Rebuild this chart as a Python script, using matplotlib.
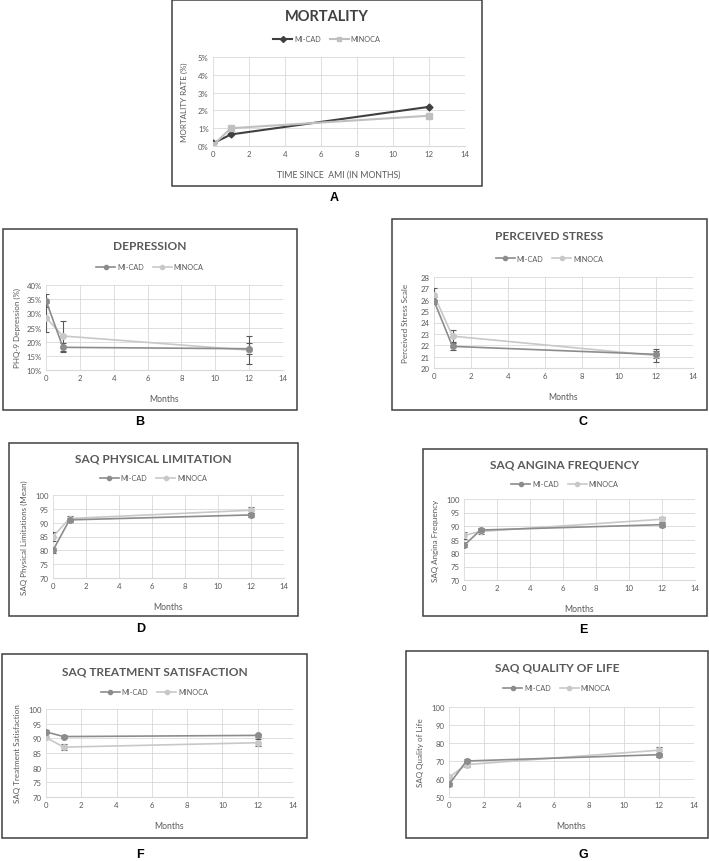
import matplotlib.pyplot as plt
from matplotlib.patches import Rectangle
from matplotlib.lines import Line2D

plt.rcParams['font.family'] = ['Lato', 'DejaVu Sans']

W, H = 709, 862

# ---- data ----
months = [0, 1, 12]
series_names = ['MI-CAD', 'MINOCA']

mort_micad = [0.15, 0.65, 2.2]
mort_minoca = [0.05, 1.0, 1.7]

dep_micad = [34.5, 18.0, 17.5]
dep_micad_err = [2.2, 1.5, 2.0]
dep_minoca = [28.5, 22.0, 17.0]
dep_minoca_err = [5.0, 5.4, 5.0]

pss_micad = [25.9, 21.9, 21.2]
pss_micad_err = [0.3, 0.3, 0.3]
pss_minoca = [26.4, 22.8, 21.1]
pss_minoca_err = [0.6, 0.5, 0.55]

spl_micad = [80.0, 91.0, 92.8]
spl_micad_err = [0.8, 0.8, 0.8]
spl_minoca = [85.0, 91.5, 94.5]
spl_minoca_err = [1.5, 1.0, 1.0]

saf_micad = [82.8, 88.5, 90.5]
saf_micad_err = [0.6, 0.6, 0.7]
saf_minoca = [86.5, 88.0, 92.5]
saf_minoca_err = [1.3, 1.0, 1.0]

sts_micad = [92.2, 90.6, 91.0]
sts_micad_err = [0.5, 0.5, 0.5]
sts_minoca = [90.3, 87.0, 88.5]
sts_minoca_err = [0.6, 1.0, 1.2]

sql_micad = [57.0, 70.0, 73.5]
sql_micad_err = [1.0, 1.0, 1.0]
sql_minoca = [61.0, 68.0, 76.0]
sql_minoca_err = [1.5, 1.5, 2.0]


def fx(px):
    return px / W


def fy(py):
    return 1 - py / H


def panel_box(fig, box, title, title_y, legend_y, letter, letter_pos,
              handles, title_size=8.6, title_color='#595959'):
    x0, y0, x1, y1 = box
    fig.add_artist(Rectangle((fx(x0), fy(y1)), fx(x1) - fx(x0), fy(y0) - fy(y1),
                             transform=fig.transFigure, fill=False,
                             edgecolor='#404040', linewidth=1.1))
    cx = (x0 + x1) / 2
    fig.text(fx(cx), fy(title_y), title, ha='center', va='center',
             fontsize=title_size, fontweight='bold', color=title_color)
    fig.legend(handles=handles, loc='center', ncol=2, frameon=False,
               bbox_to_anchor=(fx(cx), fy(legend_y)), fontsize=5.2,
               handlelength=2.6, columnspacing=1.2, handletextpad=0.3,
               labelcolor='#595959')
    fig.text(fx(letter_pos[0]), fy(letter_pos[1]), letter, ha='center', va='center',
             fontsize=9, fontweight='bold', family='Liberation Sans')


def make_axes(fig, plot, ylim, yticks, ylabel, xlabel='Months', pct=False):
    x0, y0, x1, y1 = plot
    ax = fig.add_axes([fx(x0), fy(y1), fx(x1) - fx(x0), fy(y0) - fy(y1)])
    ax.set_xlim(0, 14)
    ax.set_ylim(*ylim)
    ax.set_xticks(range(0, 15, 2))
    ax.set_yticks(yticks)
    if pct:
        ax.set_yticklabels([f'{t:g}%' for t in yticks])
    ax.grid(True, color='#d9d9d9', linewidth=0.6)
    ax.set_axisbelow(True)
    for s in ax.spines.values():
        s.set_visible(False)
    ax.spines['bottom'].set_visible(True)
    ax.spines['bottom'].set_color('#d9d9d9')
    ax.tick_params(length=0, labelsize=5.6, colors='#595959', pad=3)
    ax.set_ylabel(ylabel, fontsize=5.8, color='#595959')
    ax.set_xlabel(xlabel, fontsize=6.2, color='#595959')
    w = x1 - x0
    h = y1 - y0
    ax.yaxis.set_label_coords(-25 / w, 0.5)
    ax.xaxis.set_label_coords(0.5, -24 / h)
    return ax


fig = plt.figure(figsize=(W / 100, H / 100), dpi=100)

# ---- panel A ----
hA = [Line2D([], [], color='#404040', marker='D', markersize=3, lw=1.5, label=series_names[0]),
      Line2D([], [], color='#bfbfbf', marker='s', markersize=3.5, lw=1.5, label=series_names[1])]
panel_box(fig, (172, 1, 482, 187), 'MORTALITY', 17, 40, 'A', (334, 198),
          hA, title_size=10.5, title_color='#404040')
axA = make_axes(fig, (213, 58, 465, 147), (0, 5), [0, 1, 2, 3, 4, 5],
                'MORTALITY RATE (%)', 'TIME SINCE  AMI (IN MONTHS)', pct=True)
axA.plot(months, mort_micad, color='#404040', marker='D', markersize=3.5, lw=1.5)
axA.plot(months, mort_minoca, color='#bfbfbf', marker='s', markersize=4.5, lw=1.5)

# ---- panels B-G ----
c_micad = '#8c8c8c'
c_minoca = '#c8c8c8'
c_err = '#595959'


def gray_handles():
    return [Line2D([], [], color=c_micad, marker='o', markersize=3, lw=1.2, label=series_names[0]),
            Line2D([], [], color=c_minoca, marker='o', markersize=3, lw=1.2, label=series_names[1])]


panels = [
    dict(box=(3, 230, 297, 411), plot=(46, 286, 283, 371), title='DEPRESSION',
         ty=246, ly=268, letter='B', lp=(140, 422), ylim=(10, 40),
         yticks=[10, 15, 20, 25, 30, 35, 40], ylabel='PHQ-9 Depression (%)', pct=True,
         a=dep_micad, ae=dep_micad_err, b=dep_minoca, be=dep_minoca_err),
    dict(box=(392, 220, 707, 411), plot=(434, 278, 693, 369), title='PERCEIVED STRESS',
         ty=237, ly=259, letter='C', lp=(583, 422), ylim=(20, 28),
         yticks=list(range(20, 29)), ylabel='Perceived Stress Scale', pct=False,
         a=pss_micad, ae=pss_micad_err, b=pss_minoca, be=pss_minoca_err),
    dict(box=(9, 444, 298, 617), plot=(53, 496, 284, 579), title='SAQ PHYSICAL LIMITATION',
         ty=459, ly=479, letter='D', lp=(141, 629), ylim=(70, 100),
         yticks=list(range(70, 101, 5)), ylabel='SAQ Physical Limitations (Mean)', pct=False,
         a=spl_micad, ae=spl_micad_err, b=spl_minoca, be=spl_minoca_err),
    dict(box=(423, 450, 707, 617), plot=(464, 500, 695, 581), title='SAQ ANGINA FREQUENCY',
         ty=465, ly=485, letter='E', lp=(583, 630), ylim=(70, 100),
         yticks=list(range(70, 101, 5)), ylabel='SAQ Angina Frequency', pct=False,
         a=saf_micad, ae=saf_micad_err, b=saf_minoca, be=saf_minoca_err),
    dict(box=(2, 655, 307, 839), plot=(46, 710, 293, 798), title='SAQ TREATMENT SATISFACTION',
         ty=672, ly=693, letter='F', lp=(140, 855), ylim=(70, 100),
         yticks=list(range(70, 101, 5)), ylabel='SAQ Treatment Satisfaction', pct=False,
         a=sts_micad, ae=sts_micad_err, b=sts_minoca, be=sts_minoca_err),
    dict(box=(406, 652, 708, 839), plot=(449, 708, 694, 798), title='SAQ QUALITY OF LIFE',
         ty=668, ly=689, letter='G', lp=(583, 855), ylim=(50, 100),
         yticks=list(range(50, 101, 10)), ylabel='SAQ Quality of Life', pct=False,
         a=sql_micad, ae=sql_micad_err, b=sql_minoca, be=sql_minoca_err),
]

for p in panels:
    panel_box(fig, p['box'], p['title'], p['ty'], p['ly'], p['letter'], p['lp'],
              gray_handles())
    ax = make_axes(fig, p['plot'], p['ylim'], p['yticks'], p['ylabel'], pct=p['pct'])
    ax.errorbar(months, p['b'], yerr=p['be'], color=c_minoca, ecolor=c_err,
                marker='o', markersize=4, lw=1.2, elinewidth=0.8, capsize=2, capthick=0.8)
    ax.errorbar(months, p['a'], yerr=p['ae'], color=c_micad, ecolor=c_err,
                marker='o', markersize=4, lw=1.2, elinewidth=0.8, capsize=2, capthick=0.8)

fig.savefig('out.png', dpi=100)
